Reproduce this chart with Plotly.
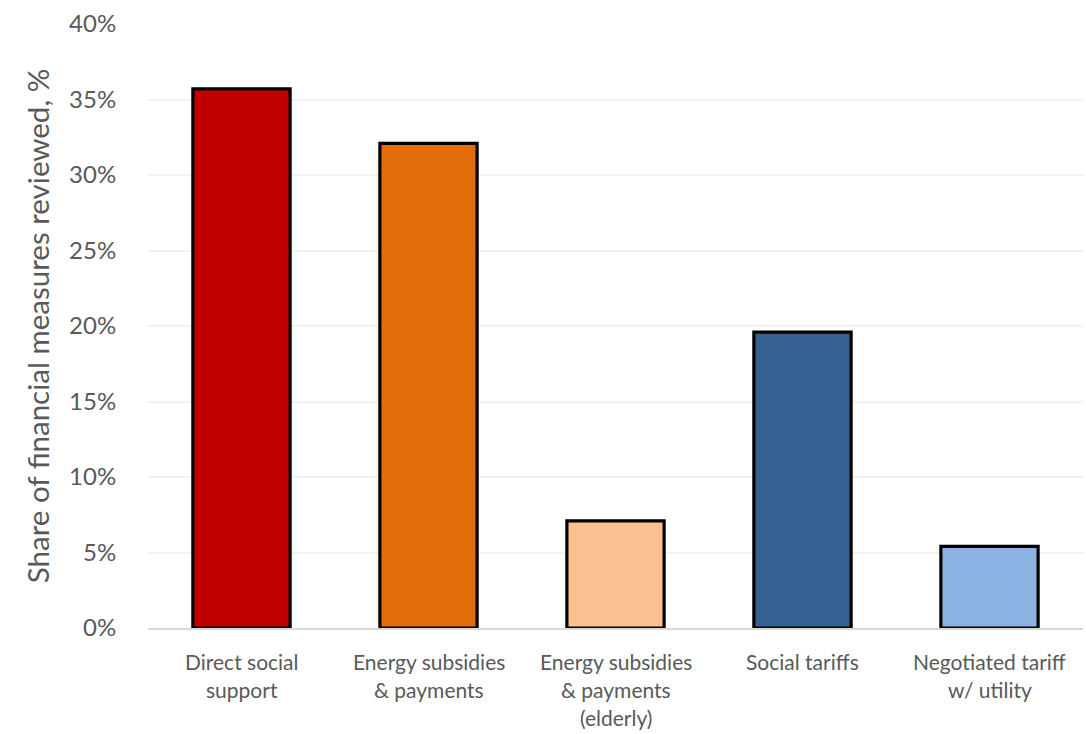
import plotly.graph_objects as go

# Share of financial measures reviewed, by measure type
categories = [
    "Direct social<br>support",
    "Energy subsidies<br>& payments",
    "Energy subsidies<br>& payments<br>(elderly)",
    "Social tariffs",
    "Negotiated tariff<br>w/ utility",
]
shares = [35.7, 32.1, 7.1, 19.6, 5.4]
bar_colors = ["#C00000", "#E36C0A", "#FAC090", "#366092", "#8DB3E2"]
y_ticks = [0, 5, 10, 15, 20, 25, 30, 35, 40]
y_tick_labels = [f"{v}%" for v in y_ticks]

font_family = "Lato, 'Open Sans', sans-serif"
text_gray = "#595959"

fig = go.Figure(
    go.Bar(
        x=list(range(len(categories))),
        y=shares,
        marker=dict(color=bar_colors, line=dict(color="#000000", width=3.2)),
        width=0.52,
        hoverinfo="y",
    )
)

# Category labels, one annotation per text line for wider line spacing
annotations = []
for i, cat in enumerate(categories):
    for j, line in enumerate(cat.split("<br>")):
        annotations.append(
            dict(
                x=i, xref="x", y=-0.055 - j * 0.047, yref="paper",
                text=line, showarrow=False,
                xanchor="center", yanchor="middle",
                font=dict(family=font_family, size=21, color=text_gray),
            )
        )

fig.update_layout(
    width=1086, height=734,
    margin=dict(l=148, r=3, t=24, b=106),
    paper_bgcolor="white", plot_bgcolor="white",
    showlegend=False,
    bargap=0.48,
    annotations=annotations,
    xaxis=dict(
        range=[-0.5, len(categories) - 0.5],
        showticklabels=False, ticks="",
        showgrid=False, zeroline=False,
        showline=True, linecolor="#D9D9D9", linewidth=1.5,
        fixedrange=True,
    ),
    yaxis=dict(
        range=[0, 40],
        tickvals=y_ticks, ticktext=y_tick_labels,
        tickfont=dict(family=font_family, size=24, color=text_gray),
        ticks="outside", ticklen=26, tickcolor="rgba(0,0,0,0)",
        showgrid=True, gridcolor="#F2F2F2", gridwidth=1.5,
        zeroline=False, showline=False,
        title=dict(
            text="Share of financial measures reviewed, %",
            font=dict(family=font_family, size=29.5, color=text_gray),
            standoff=10,
        ),
        fixedrange=True,
    ),
)

fig.write_html("out.html")
